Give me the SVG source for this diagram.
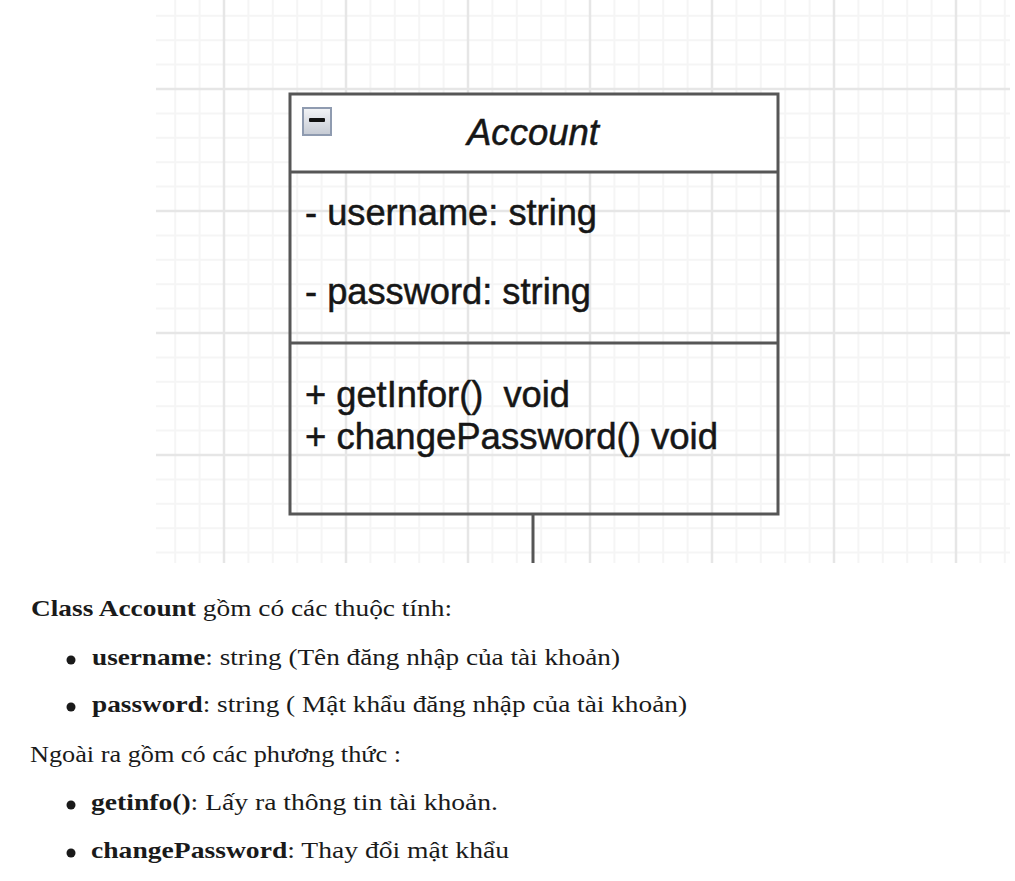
<svg xmlns="http://www.w3.org/2000/svg" width="1015" height="881" viewBox="0 0 1015 881">
  <style>
    .uml { font-family: "Liberation Sans", Arial, sans-serif; font-size: 36px; fill: #161616; stroke: #161616; stroke-width: 0.5; }
    .doc { font-family: "Liberation Serif", "Times New Roman", serif; font-size: 24px; fill: #1a1a1a; }
    .b { font-weight: bold; }
    .box { fill: none; stroke: #565656; stroke-width: 3; }
    .sep { stroke: #565656; stroke-width: 3; }
    .minor { stroke: #f5f5f5; stroke-width: 2; }
    .major { stroke: #e6e6e6; stroke-width: 2.5; }
  </style>
  <defs>
    <pattern id="grid" patternUnits="userSpaceOnUse" x="163" y="28" width="122" height="122">
      <line class="minor" x1="12.2" y1="0" x2="12.2" y2="122"/>
      <line class="minor" x1="36.6" y1="0" x2="36.6" y2="122"/>
      <line class="minor" x1="85.4" y1="0" x2="85.4" y2="122"/>
      <line class="minor" x1="109.8" y1="0" x2="109.8" y2="122"/>
      <line class="minor" x1="0" y1="12.2" x2="122" y2="12.2"/>
      <line class="minor" x1="0" y1="36.6" x2="122" y2="36.6"/>
      <line class="minor" x1="0" y1="85.4" x2="122" y2="85.4"/>
      <line class="minor" x1="0" y1="109.8" x2="122" y2="109.8"/>
      <line class="major" x1="61" y1="0" x2="61" y2="122"/>
      <line class="major" x1="0" y1="61" x2="122" y2="61"/>
    </pattern>
    <linearGradient id="iconGrad" x1="0" y1="0" x2="0" y2="1">
      <stop offset="0" stop-color="#f3f4f7"/>
      <stop offset="1" stop-color="#c5cad3"/>
    </linearGradient>
  </defs>

  <rect x="0" y="0" width="1015" height="881" fill="#ffffff"/>
  <rect x="156" y="0" width="854" height="563" fill="url(#grid)"/>

  <g id="connectors">
    <line class="sep" x1="533" y1="514" x2="533" y2="563"/>
  </g>

  <g id="account">
    <rect x="290" y="94" width="488" height="78" fill="#ffffff"/>
    <rect class="box" x="290" y="94" width="488" height="420"/>
    <line class="sep" x1="290" y1="172" x2="778" y2="172"/>
    <line class="sep" x1="290" y1="343" x2="778" y2="343"/>
    <rect x="303" y="108" width="28" height="27" fill="url(#iconGrad)" stroke="#8f9bb0" stroke-width="2"/>
    <rect x="309" y="118" width="16" height="4" rx="1" fill="#111111"/>
    <text class="uml" x="533" y="145" text-anchor="middle" font-style="italic" textLength="132" lengthAdjust="spacingAndGlyphs">Account</text>
    <text class="uml" x="305" y="225" textLength="292" lengthAdjust="spacingAndGlyphs">- username: string</text>
    <text class="uml" x="305" y="304" textLength="286" lengthAdjust="spacingAndGlyphs">- password: string</text>
    <text class="uml" x="305" y="407" xml:space="preserve" textLength="265" lengthAdjust="spacingAndGlyphs">+ getInfor()  void</text>
    <text class="uml" x="305" y="449" textLength="413" lengthAdjust="spacingAndGlyphs">+ changePassword() void</text>
  </g>

  <g id="description">
    <text class="doc" x="31" y="616" textLength="421" lengthAdjust="spacingAndGlyphs"><tspan class="b">Class Account</tspan> gồm có các thuộc tính:</text>
    <circle cx="71" cy="660" r="4.5" fill="#1a1a1a"/>
    <text class="doc" x="92" y="665" textLength="528" lengthAdjust="spacingAndGlyphs"><tspan class="b">username</tspan>: string (Tên đăng nhập của tài khoản)</text>
    <circle cx="71" cy="707" r="4.5" fill="#1a1a1a"/>
    <text class="doc" x="92" y="712" textLength="595" lengthAdjust="spacingAndGlyphs"><tspan class="b">password</tspan>: string ( Mật khẩu đăng nhập của tài khoản)</text>
    <text class="doc" x="30" y="762" textLength="371" lengthAdjust="spacingAndGlyphs">Ngoài ra gồm có các phương thức :</text>
    <circle cx="71" cy="805" r="4.5" fill="#1a1a1a"/>
    <text class="doc" x="91" y="810" textLength="407" lengthAdjust="spacingAndGlyphs"><tspan class="b">getinfo()</tspan>: Lấy ra thông tin tài khoản.</text>
    <circle cx="71" cy="853" r="4.5" fill="#1a1a1a"/>
    <text class="doc" x="91" y="858" textLength="418" lengthAdjust="spacingAndGlyphs"><tspan class="b">changePassword</tspan>: Thay đổi mật khẩu</text>
  </g>
</svg>
